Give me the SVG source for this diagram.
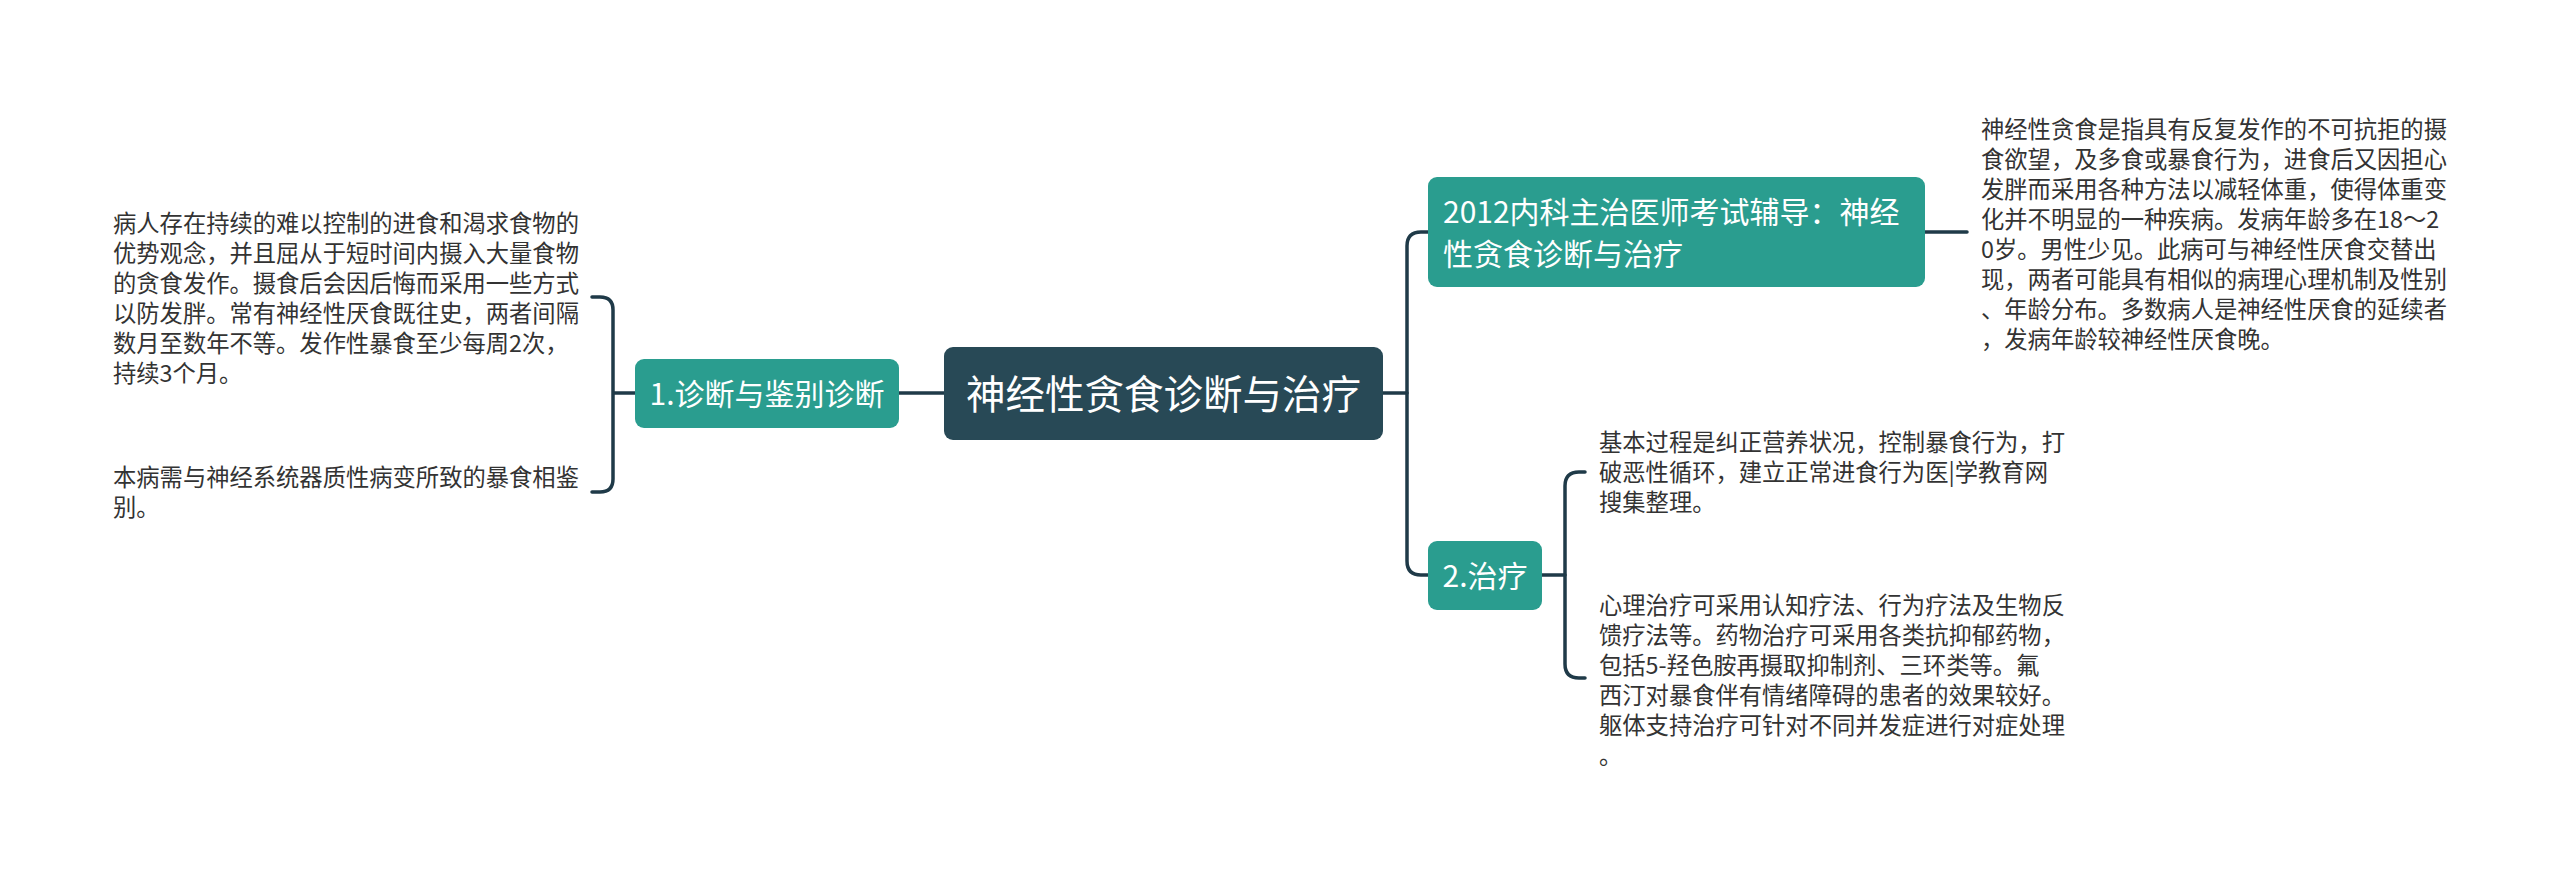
<svg xmlns="http://www.w3.org/2000/svg" width="2560" height="882" viewBox="0 0 2560 882">
<style>
.conn{fill:none;stroke:#1f3a48;stroke-width:3.5;stroke-linecap:round}
.root{fill:#284956}
.main{fill:#2a9d8f}
.nt{font-family:"Noto Sans CJK SC","Liberation Sans",sans-serif;fill:#ffffff}
.lt{font-family:"Noto Sans CJK SC","Liberation Sans",sans-serif;fill:#333333;font-size:23.3px}
</style>
<rect width="2560" height="882" fill="#ffffff"/>
<g id="connectors">
<path class="conn" d="M899 393 H944"/>
<path class="conn" d="M592 297 H600 Q613 297 613 310 V479 Q613 492 600 492 H592 M613 393 H635"/>
<path class="conn" d="M1383 393 H1407"/>
<path class="conn" d="M1428 232 H1421 Q1407 232 1407 246 V561 Q1407 575 1421 575 H1428"/>
<path class="conn" d="M1925 232 H1967"/>
<path class="conn" d="M1542 575 H1565"/>
<path class="conn" d="M1585 472 H1579 Q1565 472 1565 486 V664 Q1565 678 1579 678 H1585"/>
</g>
<g id="root">
<rect class="root" x="944" y="347" width="439" height="93" rx="9"/>
<text class="nt" x="1163.5" y="409" font-size="39.5" text-anchor="middle">神经性贪食诊断与治疗</text>
</g>
<g id="node1">
<rect class="main" x="635" y="359" width="264" height="69" rx="9"/>
<text class="nt" x="767" y="405" font-size="30" text-anchor="middle">1.诊断与鉴别诊断</text>
</g>
<g id="leaf1">
<text class="lt" x="113" y="232">病人存在持续的难以控制的进食和渴求食物的</text>
<text class="lt" x="113" y="262">优势观念，并且屈从于短时间内摄入大量食物</text>
<text class="lt" x="113" y="292">的贪食发作。摄食后会因后悔而采用一些方式</text>
<text class="lt" x="113" y="322">以防发胖。常有神经性厌食既往史，两者间隔</text>
<text class="lt" x="113" y="352">数月至数年不等。发作性暴食至少每周2次，</text>
<text class="lt" x="113" y="382">持续3个月。</text>
</g>
<g id="leaf2">
<text class="lt" x="113" y="486">本病需与神经系统器质性病变所致的暴食相鉴</text>
<text class="lt" x="113" y="516">别。</text>
</g>
<g id="node-topright">
<rect class="main" x="1428" y="177" width="497" height="110" rx="9"/>
<text class="nt" x="1443" y="223" font-size="30">2012内科主治医师考试辅导：神经</text>
<text class="nt" x="1443" y="265" font-size="30">性贪食诊断与治疗</text>
</g>
<g id="leaf-topright">
<text class="lt" x="1981" y="138">神经性贪食是指具有反复发作的不可抗拒的摄</text>
<text class="lt" x="1981" y="168">食欲望，及多食或暴食行为，进食后又因担心</text>
<text class="lt" x="1981" y="198">发胖而采用各种方法以减轻体重，使得体重变</text>
<text class="lt" x="1981" y="228">化并不明显的一种疾病。发病年龄多在18～2</text>
<text class="lt" x="1981" y="258">0岁。男性少见。此病可与神经性厌食交替出</text>
<text class="lt" x="1981" y="288">现，两者可能具有相似的病理心理机制及性别</text>
<text class="lt" x="1981" y="318">、年龄分布。多数病人是神经性厌食的延续者</text>
<text class="lt" x="1981" y="348">，发病年龄较神经性厌食晚。</text>
</g>
<g id="node2">
<rect class="main" x="1428" y="541" width="114" height="69" rx="9"/>
<text class="nt" x="1485" y="587" font-size="30" text-anchor="middle">2.治疗</text>
</g>
<g id="leaf3">
<text class="lt" x="1599" y="451">基本过程是纠正营养状况，控制暴食行为，打</text>
<text class="lt" x="1599" y="481">破恶性循环，建立正常进食行为医|学教育网</text>
<text class="lt" x="1599" y="511">搜集整理。</text>
</g>
<g id="leaf4">
<text class="lt" x="1599" y="614">心理治疗可采用认知疗法、行为疗法及生物反</text>
<text class="lt" x="1599" y="644">馈疗法等。药物治疗可采用各类抗抑郁药物，</text>
<text class="lt" x="1599" y="674">包括5-羟色胺再摄取抑制剂、三环类等。氟</text>
<text class="lt" x="1599" y="704">西汀对暴食伴有情绪障碍的患者的效果较好。</text>
<text class="lt" x="1599" y="734">躯体支持治疗可针对不同并发症进行对症处理</text>
<text class="lt" x="1599" y="764">。</text>
</g>
</svg>
